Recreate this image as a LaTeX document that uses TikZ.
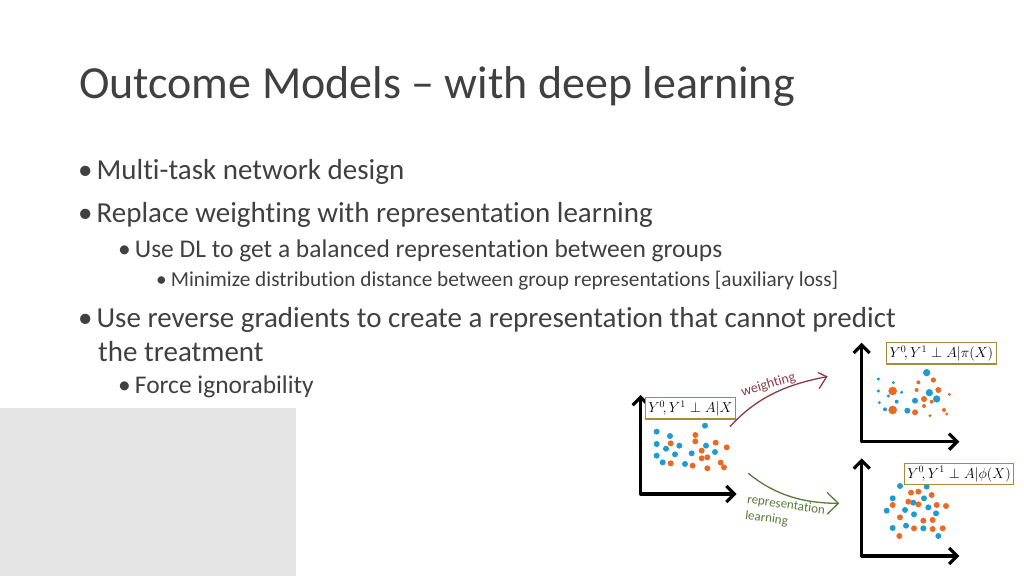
\documentclass[tikz,border=0pt]{standalone}
\usepackage{fontspec}
\setmainfont[Ligatures=NoCommon]{Carlito}
\usetikzlibrary{arrows.meta}
\begin{document}
\begin{tikzpicture}[x=1pt,y=-1pt,
 txt/.style={anchor=west,inner sep=0pt,text=black!75},
 ax/.style={line width=3.2pt,-{Straight Barb[length=8pt,width=16pt]},line cap=round},
 mbox/.style={draw=boxc,line width=1.2pt,fill=white,inner sep=3pt,font=\fontsize{14}{16}\selectfont},
 db/.style={fill=dotb},do/.style={fill=doto}]
\definecolor{dotb}{HTML}{1E9BD0}
\definecolor{doto}{HTML}{EA6A25}
\definecolor{boxc}{HTML}{A88B3A}
\definecolor{wc}{HTML}{8B3A48}
\definecolor{rc}{HTML}{5A7A3A}
\useasboundingbox (0,0) rectangle (1024,576);
\fill[black!10] (0,408) rectangle (296,576);
\node[txt,font=\fontsize{46}{52}\selectfont] (title) at (79,86) {Outcome Models – with deep learning};
\node[txt,font=\fontsize{29}{34}\selectfont] (b1) at (78,172) {•\hspace{4pt}Multi-task network design};
\node[txt,font=\fontsize{29}{34}\selectfont] (b2) at (78,215) {•\hspace{4pt}Replace weighting with representation learning};
\node[txt,font=\fontsize{25.5}{30}\selectfont] (b3) at (118,251) {•\hspace{4pt}Use DL to get a balanced representation between groups};
\node[txt,font=\fontsize{21.3}{25}\selectfont] (b4) at (156,281) {•\hspace{4pt}Minimize distribution distance between group representations [auxiliary loss]};
\node[txt,font=\fontsize{29}{34}\selectfont] (b5) at (78,320) {•\hspace{4pt}Use reverse gradients to create a representation that cannot predict};
\node[txt,font=\fontsize{29}{34}\selectfont] (b5b) at (98,352) {the treatment};
\node[txt,font=\fontsize{25.5}{30}\selectfont] (b6) at (118,387) {•\hspace{4pt}Force ignorability};
\begin{scope}[shift={(620,330)},xscale=1/3,yscale=1/3]
\coordinate (o1) at (62,492); \coordinate (t1) at (62,195); \coordinate (r1) at (350,492);
\draw[ax] (o1) -- (t1); \draw[ax] (o1) -- (r1);
\coordinate (o2) at (725,335); \coordinate (t2) at (725,38); \coordinate (r2) at (1018,335);
\draw[ax] (o2) -- (t2); \draw[ax] (o2) -- (r2);
\coordinate (o3) at (725,678); \coordinate (t3) at (725,385); \coordinate (r3) at (1018,678);
\draw[ax] (o3) -- (t3); \draw[ax] (o3) -- (r3);
\foreach \p in {(110,305),(150,318),(110,342),(138,356),(178,347),(110,377),(165,373),(128,397),(195,402),(215,370),(255,287),(258,347),(285,366)} \fill[db] \p circle (9);
\foreach \p in {(226,315),(152,340),(226,334),(287,338),(320,352),(245,362),(262,382),(245,385),(152,400),(218,407),(302,398),(262,415),(312,412)} \fill[do] \p circle (9);
\foreach \p/\r in {(775,147)/5,(820,158)/5,(775,183)/5,(805,198)/5,(845,187)/5,(778,218)/5,(830,215)/6,(795,238)/6,(920,128)/11,(928,188)/11,(950,207)/11,(885,212)/9,(862,242)/9} \fill[db] \p circle (\r);
\foreach \p/\r in {(940,150)/8,(895,157)/6,(818,183)/13,(890,180)/6,(955,180)/9,(988,193)/5,(912,207)/9,(935,215)/6,(912,228)/6,(818,240)/13,(885,247)/9,(972,240)/6,(980,252)/5,(930,257)/5} \fill[do] \p circle (\r);
\foreach \p in {(840,468),(920,470),(818,505),(912,505),(800,542),(855,540),(882,553),(925,532),(948,550),(818,594),(858,587),(910,595),(955,618),(880,518)} \fill[db] \p circle (9);
\foreach \p in {(873,488),(935,495),(818,525),(865,515),(895,523),(950,525),(978,528),(840,562),(838,618),(910,572),(938,570),(882,595),(938,597),(968,595),(895,485)} \fill[do] \p circle (9);
\node[mbox] (m1) at (211,235) {$Y^0\!,Y^1\perp A|X$};
\node[mbox] (m2) at (964,70) {$Y^0\!,Y^1\perp A|\pi(X)$};
\node[mbox] (m3) at (1017,432) {$Y^0\!,Y^1\perp A|\phi(X)$};
\coordinate (w0) at (330,290); \coordinate (w1) at (620,140);
\draw[wc,line width=1.3pt] (w0) .. controls (420,190) and (520,160) .. (w1);
\draw[wc,line width=1.3pt,line cap=round] (595,128) -- (620,140) -- (598,175);
\node[wc,rotate=16,font=\fontsize{14}{16}\selectfont] (wl) at (445,165) {weighting};
\coordinate (p0) at (385,430); \coordinate (p1) at (655,520);
\draw[rc,line width=1.3pt] (p0) .. controls (470,500) and (560,520) .. (p1);
\draw[rc,line width=1.3pt,line cap=round] (622,488) -- (655,520) -- (622,552);
\node[rc,rotate=-8,font=\fontsize{13}{16}\selectfont,align=left] (rl) at (495,550) {representation\\learning};
\end{scope}
\end{tikzpicture}
\end{document}
